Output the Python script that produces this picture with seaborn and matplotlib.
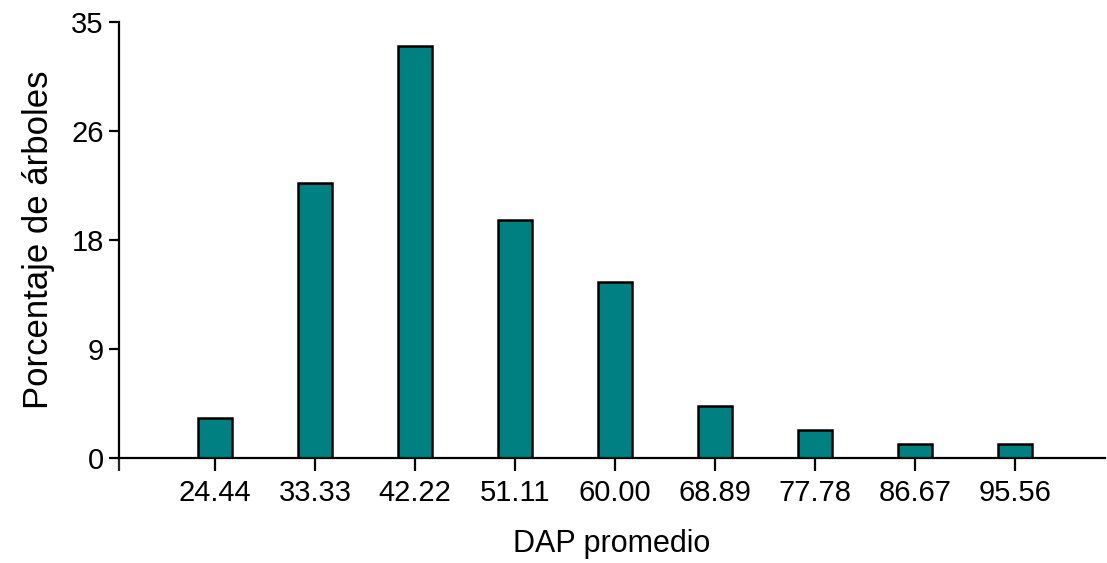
import matplotlib
matplotlib.use("Agg")
import matplotlib.pyplot as plt
import seaborn as sns
import pandas as pd

categories = ["24.44", "33.33", "42.22", "51.11", "60.00", "68.89", "77.78", "86.67", "95.56"]
values = [3.2, 22.1, 33.1, 19.1, 14.1, 4.2, 2.25, 1.1, 1.1]
ytick_vals = [0, 8.75, 17.5, 26.25, 35]
ytick_labels = ["0", "9", "18", "26", "35"]

sns.set_style("ticks")
plt.rcParams["font.family"] = ["Liberation Sans", "DejaVu Sans"]

df = pd.DataFrame({"DAP": categories, "pct": values})

fig = plt.figure(figsize=(11.07, 5.63), dpi=100)
ax = fig.add_axes([119/1107, 1-458/563, (1105-119)/1107, (458-22)/563])

sns.barplot(data=df, x="DAP", y="pct", ax=ax, color="#008080", saturation=1,
            width=0.34, edgecolor="black", linewidth=1.8)

ax.set_ylim(0, 35)
ax.set_xlim(-0.96, 8.9)
ax.set_yticks(ytick_vals)
ax.set_yticklabels(ytick_labels)
ax.set_xticks([-0.96], minor=True)
ax.tick_params(axis="x", which="minor", length=9, width=1.6, direction="out")
ax.tick_params(axis="x", which="major", length=9, width=1.6, labelsize=21, pad=6, colors="black")
ax.tick_params(axis="y", length=7, width=1.6, labelsize=21, pad=4, colors="black")

for s in ["top", "right"]:
    ax.spines[s].set_visible(False)
for s in ["left", "bottom"]:
    ax.spines[s].set_linewidth(1.6)
    ax.spines[s].set_color("black")

ax.set_xlabel("DAP promedio", fontsize=22, labelpad=16, color="black")
ax.set_ylabel("Porcentaje de árboles", fontsize=25, labelpad=12, color="black")

fig.savefig("out.png", dpi=100)
